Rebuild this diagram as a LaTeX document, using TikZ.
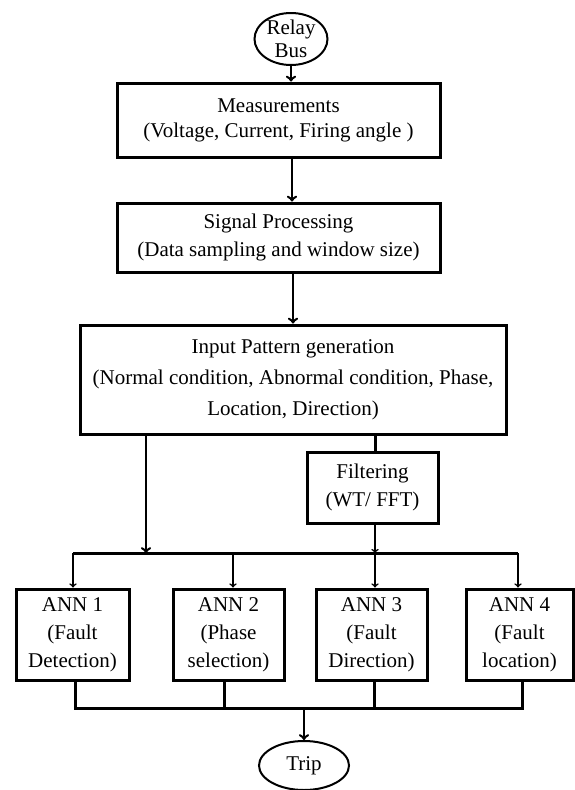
\documentclass[tikz,border=0pt]{standalone}
\usepackage{fontspec}
\setmainfont{Liberation Serif}
\usetikzlibrary{shapes.geometric}

\begin{document}
\begin{tikzpicture}[x=1pt,y=-1pt,
  box/.style={draw,rectangle,line width=3pt,align=center,inner sep=0pt,font=\fontsize{21}{28}\selectfont},
  oval/.style={draw,ellipse,line width=2pt,inner sep=0pt},
  flow/.style={->,line width=2.5pt},
  tap/.style={->,line width=1.6pt},
  wire/.style={line width=3pt}]
  \useasboundingbox (0,0) rectangle (574,790) ;

  \node[oval,minimum width=73pt,minimum height=52pt] (relay) at (291,39) {} ;
  \node[align=center,inner sep=0pt,font=\fontsize{21}{23}\selectfont] (relaytext) at (291,39) {Relay\\Bus} ;

  \node[box,minimum width=323pt,minimum height=74pt,font=\fontsize{21}{25}\selectfont] (meas) at (278.5,120) {Measurements\\(Voltage, Current, Firing angle )} ;
  \node[box,minimum width=323pt,minimum height=69pt] (sig) at (278.5,237.5) {Signal Processing\\(Data sampling and window size)} ;
  \node[box,minimum width=426pt,minimum height=109pt,font=\fontsize{21}{31}\selectfont] (inp) at (293,379.5) {Input Pattern generation\\(Normal condition, Abnormal condition, Phase,\\Location, Direction)} ;
  \node[box,minimum width=131pt,minimum height=71pt] (filt) at (372.5,487.5) {Filtering\\(WT/ FFT)} ;

  \node[box,minimum width=113pt,minimum height=91pt] (ann1) at (72.5,634.5) {ANN 1\\(Fault\\Detection)} ;
  \node[box,minimum width=111pt,minimum height=91pt] (ann2) at (228.5,634.5) {ANN 2\\(Phase\\selection)} ;
  \node[box,minimum width=111pt,minimum height=91pt] (ann3) at (371.5,634.5) {ANN 3\\(Fault\\Direction)} ;
  \node[box,minimum width=107pt,minimum height=91pt] (ann4) at (519.5,634.5) {ANN 4\\(Fault\\location)} ;

  \node[oval,minimum width=90pt,minimum height=49pt,font=\fontsize{21}{25}\selectfont] (trip) at (304,765.5) {Trip} ;

  \coordinate (pin) at (146,553) ;
  \coordinate (b1) at (73,553) ;
  \coordinate (b2) at (233,553) ;
  \coordinate (b3) at (375,553) ;
  \coordinate (b4) at (518,553) ;
  \coordinate (c1) at (75,708) ;
  \coordinate (c2) at (224,708) ;
  \coordinate (c3) at (374,708) ;
  \coordinate (c4) at (522,708) ;
  \coordinate (ct) at (304,708) ;

  \draw[flow] (relay.south) -- (relay.south |- meas.north) ;
  \draw[flow] (meas.south -| 292,0) -- (sig.north -| 292,0) ;
  \draw[flow] (sig.south -| 293,0) -- (inp.north) ;
  \draw[flow] (inp.south -| pin) -- (pin) ;
  \draw[wire] (inp.south -| b3) -- (filt.north -| b3) ;
  \draw[tap] (filt.south -| b3) -- (b3) ;

  \draw[wire] (b1) -- (b4) ;
  \draw[tap] (b1) -- (ann1.north -| b1) ;
  \draw[tap] (b2) -- (ann2.north -| b2) ;
  \draw[tap] (b3) -- (ann3.north -| b3) ;
  \draw[tap] (b4) -- (ann4.north -| b4) ;

  \draw[wire] (ann1.south -| c1) -- (c1) -- (c4) -- (ann4.south -| c4) ;
  \draw[wire] (ann2.south -| c2) -- (c2) ;
  \draw[wire] (ann3.south -| c3) -- (c3) ;
  \draw[flow] (ct) -- (trip.north) ;

\end{tikzpicture}
\end{document}
